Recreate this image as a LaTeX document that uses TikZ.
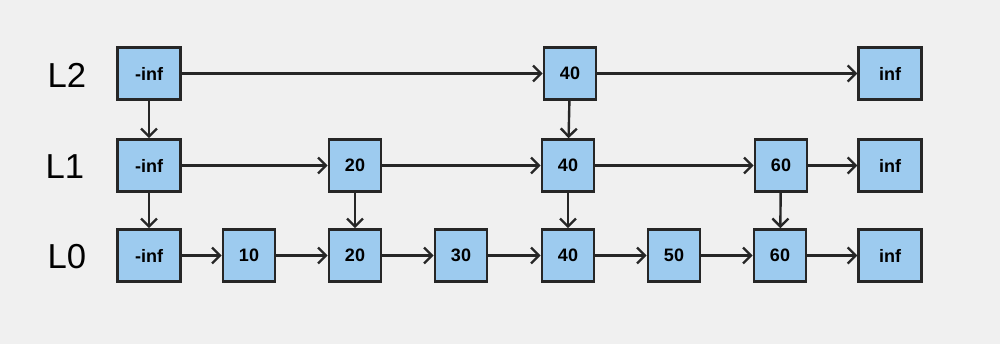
\documentclass[tikz,border=0pt]{standalone}
\usepackage{fontspec}
\setmainfont{Liberation Sans}
\usetikzlibrary{arrows.meta}
\definecolor{bgcol}{RGB}{240,240,240}
\definecolor{cellblue}{RGB}{157,203,239}
\definecolor{inkcol}{RGB}{38,38,38}
\begin{document}
\begin{tikzpicture}[x=0.75pt, y=-0.75pt,
    cell/.style={draw=inkcol, fill=cellblue, line width=1.9pt, minimum width=39pt, minimum height=39pt, inner sep=0pt, font=\bfseries\fontsize{13.5}{13.5}\selectfont},
    wide/.style={cell, minimum width=47pt},
    lvl/.style={font=\fontsize{26}{26}\selectfont},
    link/.style={draw=inkcol, line width=1.8pt, -{Straight Barb[length=6pt,width=12pt,line width=1.8pt]}}]
    \fill[bgcol] (0,0) rectangle (1000,344);
    \useasboundingbox (0,0) rectangle (1000,344);
    % level labels
    \node[lvl] (l2) at (67,75) {L2};
    \node[lvl] (l1) at (65,167) {L1};
    \node[lvl] (l0) at (67,257) {L0};
    % level 2
    \node[wide] (a2) at (149,73.5) {-inf};
    \node[cell] (d2) at (570,73.5) {40};
    \node[wide] (z2) at (890,73.5) {inf};
    % level 1
    \node[wide] (a1) at (149,165.5) {-inf};
    \node[cell] (b1) at (355,165.5) {20};
    \node[cell] (d1) at (568,165.5) {40};
    \node[cell] (f1) at (781,165.5) {60};
    \node[wide] (z1) at (890,165.5) {inf};
    % level 0
    \node[wide] (a0) at (149,255.5) {-inf};
    \foreach \nm/\xx/\val in {p/249/10, b0/355/20, q/461/30, d0/568/40, r/674/50, f0/780/60}
        \node[cell] (\nm) at (\xx,255.5) {\val};
    \node[wide] (z0) at (890,255.5) {inf};
    % forward links
    \draw[link] (a2) -- (d2);
    \draw[link] (d2) -- (z2);
    \draw[link] (a1) -- (b1);
    \draw[link] (b1) -- (d1);
    \draw[link] (d1) -- (f1);
    \draw[link] (f1) -- (z1);
    \draw[link] (a0) -- (p);
    \draw[link] (p) -- (b0);
    \draw[link] (b0) -- (q);
    \draw[link] (q) -- (d0);
    \draw[link] (d0) -- (r);
    \draw[link] (r) -- (f0);
    \draw[link] (f0) -- (z0);
    % down links
    \draw[link] (a2) -- (a1);
    \draw[link] (a1) -- (a0);
    \draw[link] (d2) -- (d1);
    \draw[link] (d1) -- (d0);
    \draw[link] (b1) -- (b0);
    \draw[link] (f1) -- (f0);
\end{tikzpicture}
\end{document}
